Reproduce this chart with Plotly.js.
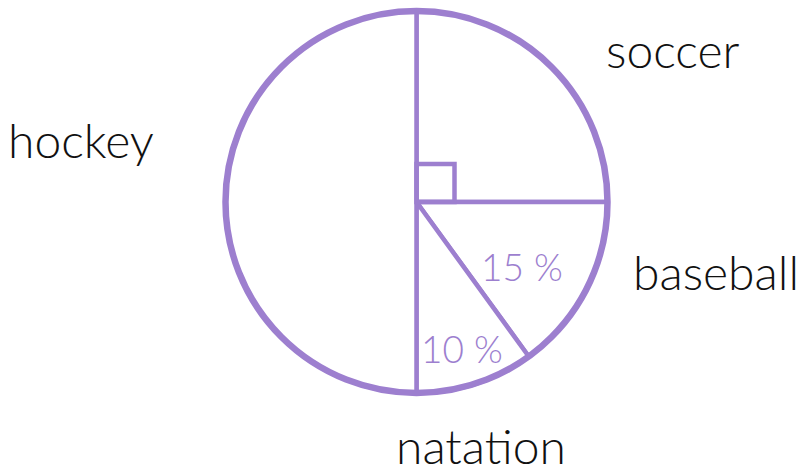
<!DOCTYPE html>
<html>
<head>
<meta charset="utf-8">
<script src="https://cdn.plot.ly/plotly-3.0.1.min.js"></script>
<style>html,body{margin:0;padding:0;background:#fff;}#chart{width:807px;height:473px;}</style>
</head>
<body>
<div id="chart"></div>
<script>
const categories = ['soccer', 'baseball', 'natation', 'hockey'];
const values = [25, 15, 10, 50];
const shownPercent = ['baseball', 'natation'];

const W = 807, H = 473;
const purple = '#9d7fcf';
const px = x => x / W;
const py = y => 1 - y / H;

// pie geometry (pixels)
const cx = 416.5, cy = 202, r = 191;

const labelPos = {
  soccer:   [673, 50],
  baseball: [716, 271],
  natation: [481, 445],
  hockey:   [81, 139]
};
const pctPos = {
  baseball: [522, 266],
  natation: [462, 348]
};

const annotations = [];
categories.forEach((c, i) => {
  annotations.push({
    x: px(labelPos[c][0]), y: py(labelPos[c][1]), xref: 'paper', yref: 'paper',
    text: c, showarrow: false, xanchor: 'center', yanchor: 'middle',
    font: {family: 'Lato, sans-serif', size: 48, color: '#111', weight: 300}
  });
  if (shownPercent.includes(c)) {
    annotations.push({
      x: px(pctPos[c][0]), y: py(pctPos[c][1]), xref: 'paper', yref: 'paper',
      text: values[i] + ' %', showarrow: false, xanchor: 'center', yanchor: 'middle',
      font: {family: 'Lato, sans-serif', size: 37, color: purple, weight: 300}
    });
  }
});

const trace = {
  type: 'pie',
  labels: categories,
  values: values,
  sort: false,
  direction: 'clockwise',
  rotation: 0,
  textinfo: 'none',
  hoverinfo: 'label+percent',
  marker: {colors: categories.map(() => '#ffffff'), line: {color: purple, width: 4.5}},
  domain: {x: [px(cx - r), px(cx + r)], y: [py(cy + r), py(cy - r)]},
  showlegend: false
};

const layout = {
  width: W, height: H,
  margin: {l: 0, r: 0, t: 0, b: 0},
  paper_bgcolor: '#fff', plot_bgcolor: '#fff',
  showlegend: false,
  annotations: annotations,
  shapes: [
    {type: 'circle', xref: 'paper', yref: 'paper',
     x0: px(cx - r), x1: px(cx + r), y0: py(cy + r), y1: py(cy - r),
     line: {color: purple, width: 6.5}},
    {type: 'rect', xref: 'paper', yref: 'paper',
     x0: px(cx), x1: px(cx + 38), y0: py(cy), y1: py(cy - 38),
     line: {color: purple, width: 4.5}}
  ]
};

Plotly.newPlot('chart', [trace], layout, {displayModeBar: false, staticPlot: true});
</script>
</body>
</html>
